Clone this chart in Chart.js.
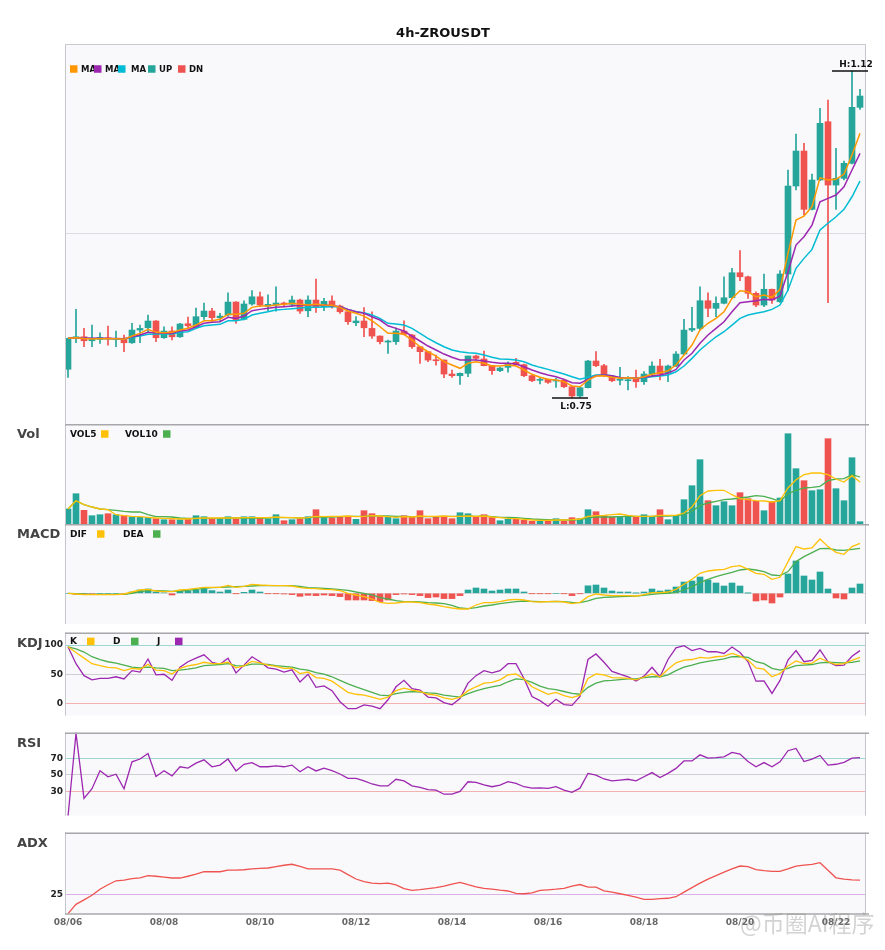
<!DOCTYPE html>
<html>
<head>
<meta charset="utf-8">
<script src="https://cdn.jsdelivr.net/npm/chart.js@4.4.0/dist/chart.umd.min.js"></script>
<style>
html,body{margin:0;padding:0;background:#fff;}
#wrap{position:relative;width:885px;height:950px;overflow:hidden;}
canvas{position:absolute;left:0;}
#wm{position:absolute;left:740px;top:911px;font-size:23px;line-height:1;font-family:"Noto Sans CJK SC",sans-serif;color:rgba(140,140,140,0.38);white-space:nowrap;pointer-events:none;}
</style>
</head>
<body>
<div id="wrap">
<canvas id="cMain" width="885" height="424" style="top:0px"></canvas>
<canvas id="cVol" width="885" height="100" style="top:424px"></canvas>
<canvas id="cMacd" width="885" height="100" style="top:524px"></canvas>
<canvas id="cKdj" width="885" height="100" style="top:624px"></canvas>
<canvas id="cRsi" width="885" height="100" style="top:724px"></canvas>
<canvas id="cAdx" width="885" height="126" style="top:824px"></canvas>
<div id="wm">@币圈AI程序</div>
</div>
<script>
// ---------------- DATA ----------------
const chartTitle = '4h-ZROUSDT';
const dateLabels = ['08/06','08/08','08/10','08/12','08/14','08/16','08/18','08/20','08/22'];
const dateTickIndex = [0,12,24,36,48,60,72,84,96];

const opens = [0.7826,0.8177,0.8195,0.8150,0.8166,0.8184,0.8166,0.8177,0.8127,0.8271,
 0.8297,0.8374,0.8184,0.8260,0.8195,0.8343,0.8309,0.8423,0.8487,0.8411,
 0.8442,0.8589,0.8393,0.8567,0.8649,0.8544,0.8555,0.8578,0.8563,0.8612,
 0.8490,0.8612,0.8536,0.8601,0.8544,0.8479,0.8354,0.8374,0.8290,0.8203,
 0.8135,0.8139,0.8260,0.8215,0.8082,0.8026,0.7931,0.7931,0.7772,0.7753,
 0.7780,0.7977,0.7943,0.7867,0.7810,0.7848,0.7905,0.7878,0.7753,0.7701,
 0.7712,0.7693,0.7704,0.7628,0.7523,0.7617,0.7920,0.7867,0.7742,0.7701,
 0.7696,0.7723,0.7685,0.7772,0.7863,0.7787,0.7863,0.7999,0.8271,0.8290,
 0.8604,0.8518,0.8575,0.8638,0.8922,0.8876,0.8688,0.8555,0.8734,0.8593,
 0.8907,0.9906,1.0303,0.9641,0.9974,1.0636,0.9917,0.9993,1.0164,1.0799];
const highs = [0.8181,0.8507,0.8290,0.8328,0.8241,0.8317,0.8260,0.8215,0.8348,0.8328,
 0.8442,0.8380,0.8309,0.8309,0.8348,0.8419,0.8521,0.8578,0.8518,0.8461,
 0.8695,0.8595,0.8604,0.8718,0.8703,0.8672,0.8763,0.8589,0.8657,0.8623,
 0.8661,0.8850,0.8631,0.8661,0.8555,0.8482,0.8423,0.8525,0.8479,0.8206,
 0.8158,0.8297,0.8377,0.8223,0.8085,0.8029,0.7988,0.7934,0.7818,0.7787,
 0.7977,0.7988,0.8033,0.7870,0.7852,0.7912,0.7950,0.7886,0.7761,0.7730,
 0.7716,0.7723,0.7716,0.7636,0.7628,0.7928,0.8026,0.7882,0.7750,0.7848,
 0.7742,0.7818,0.7799,0.7912,0.7939,0.7874,0.8026,0.8393,0.8529,0.8763,
 0.8695,0.8649,0.8876,0.8972,0.9172,0.8884,0.8706,0.8907,0.8737,0.8945,
 1.0088,1.0496,1.0391,1.0042,1.0788,1.0882,1.0334,1.0190,1.1211,1.1003];
const lows = [0.7735,0.8127,0.8082,0.8082,0.8120,0.8101,0.8082,0.8026,0.8120,0.8127,
 0.8252,0.8139,0.8177,0.8158,0.8188,0.8290,0.8302,0.8393,0.8354,0.8366,
 0.8430,0.8348,0.8385,0.8555,0.8536,0.8490,0.8487,0.8544,0.8536,0.8461,
 0.8423,0.8472,0.8490,0.8521,0.8461,0.8336,0.8320,0.8195,0.8177,0.8113,
 0.8007,0.8109,0.8215,0.8064,0.7893,0.7912,0.7874,0.7730,0.7735,0.7655,
 0.7742,0.7931,0.7863,0.7769,0.7799,0.7792,0.7874,0.7742,0.7685,0.7659,
 0.7667,0.7621,0.7617,0.7500,0.7506,0.7614,0.7855,0.7742,0.7685,0.7648,
 0.7591,0.7621,0.7655,0.7742,0.7704,0.7685,0.7855,0.7988,0.8252,0.8271,
 0.8423,0.8423,0.8567,0.8631,0.8831,0.8631,0.8536,0.8536,0.8575,0.8586,
 0.8718,0.9861,0.9577,0.9634,0.9966,0.8581,0.9641,0.9974,1.0156,1.0776];
const closes = [0.8177,0.8195,0.8150,0.8169,0.8188,0.8173,0.8173,0.8127,0.8271,0.8290,
 0.8374,0.8184,0.8260,0.8195,0.8340,0.8320,0.8423,0.8487,0.8411,0.8430,
 0.8589,0.8385,0.8567,0.8649,0.8555,0.8563,0.8578,0.8563,0.8612,0.8487,
 0.8612,0.8536,0.8597,0.8544,0.8479,0.8366,0.8374,0.8297,0.8203,0.8139,
 0.8147,0.8260,0.8223,0.8082,0.8026,0.7931,0.7923,0.7772,0.7753,0.7780,
 0.7977,0.7950,0.7867,0.7810,0.7840,0.7894,0.7878,0.7753,0.7696,0.7712,
 0.7678,0.7704,0.7628,0.7523,0.7617,0.7920,0.7867,0.7761,0.7696,0.7712,
 0.7704,0.7685,0.7772,0.7863,0.7772,0.7863,0.7999,0.8271,0.8290,0.8604,
 0.8518,0.8575,0.8638,0.8922,0.8876,0.8688,0.8555,0.8734,0.8612,0.8907,
 0.9906,1.0303,0.9641,0.9974,1.0618,0.9917,0.9993,1.0164,1.0799,1.0927];

const ma5 = [0.8177,0.8184,0.8175,0.8169,0.8173,0.8173,0.8173,0.8166,0.8203,0.8234,
 0.8279,0.8245,0.8241,0.8245,0.8272,0.8291,0.8328,0.8377,0.8377,0.8393,
 0.8450,0.8450,0.8461,0.8529,0.8544,0.8544,0.8555,0.8563,0.8575,0.8563,
 0.8555,0.8563,0.8555,0.8552,0.8529,0.8487,0.8461,0.8430,0.8377,0.8309,
 0.8234,0.8234,0.8223,0.8158,0.8082,0.8025,0.7976,0.7912,0.7874,0.7837,
 0.7894,0.7912,0.7894,0.7863,0.7863,0.7874,0.7863,0.7818,0.7769,0.7735,
 0.7712,0.7704,0.7685,0.7636,0.7628,0.7704,0.7749,0.7753,0.7735,0.7723,
 0.7730,0.7723,0.7742,0.7769,0.7787,0.7810,0.7874,0.7988,0.8101,0.8272,
 0.8348,0.8404,0.8479,0.8631,0.8718,0.8706,0.8649,0.8669,0.8643,0.8733,
 0.9142,0.9520,0.9565,0.9671,0.9999,0.9974,0.9982,1.0042,1.0258,1.0504];
const ma10 = [0.8179,0.8184,0.8181,0.8177,0.8177,0.8175,0.8175,0.8173,0.8195,0.8215,
 0.8245,0.8241,0.8234,0.8234,0.8260,0.8272,0.8309,0.8348,0.8359,0.8366,
 0.8416,0.8404,0.8430,0.8491,0.8506,0.8518,0.8529,0.8536,0.8544,0.8552,
 0.8555,0.8555,0.8555,0.8547,0.8536,0.8506,0.8479,0.8461,0.8422,0.8385,
 0.8320,0.8290,0.8260,0.8203,0.8147,0.8090,0.8045,0.7999,0.7962,0.7931,
 0.7931,0.7931,0.7920,0.7905,0.7894,0.7894,0.7886,0.7855,0.7818,0.7787,
 0.7761,0.7742,0.7712,0.7673,0.7667,0.7712,0.7753,0.7761,0.7753,0.7732,
 0.7730,0.7723,0.7735,0.7749,0.7761,0.7780,0.7825,0.7931,0.8007,0.8121,
 0.8215,0.8291,0.8366,0.8479,0.8581,0.8593,0.8604,0.8620,0.8612,0.8657,
 0.8933,0.9236,0.9330,0.9463,0.9728,0.9766,0.9804,0.9898,1.0088,1.0277];
const ma20 = [0.8180,0.8181,0.8177,0.8175,0.8175,0.8173,0.8173,0.8169,0.8189,0.8203,
 0.8223,0.8226,0.8226,0.8226,0.8245,0.8252,0.8291,0.8320,0.8328,0.8336,
 0.8377,0.8377,0.8393,0.8442,0.8461,0.8479,0.8499,0.8506,0.8513,0.8521,
 0.8529,0.8529,0.8533,0.8536,0.8536,0.8506,0.8479,0.8468,0.8442,0.8404,
 0.8348,0.8340,0.8328,0.8291,0.8234,0.8177,0.8127,0.8082,0.8045,0.8025,
 0.8014,0.8007,0.7988,0.7962,0.7942,0.7939,0.7931,0.7912,0.7874,0.7848,
 0.7825,0.7798,0.7772,0.7742,0.7712,0.7735,0.7761,0.7761,0.7753,0.7727,
 0.7727,0.7727,0.7730,0.7742,0.7749,0.7761,0.7798,0.7863,0.7950,0.8045,
 0.8121,0.8195,0.8252,0.8328,0.8404,0.8442,0.8461,0.8479,0.8506,0.8555,
 0.8726,0.8972,0.9085,0.9187,0.9407,0.9483,0.9557,0.9641,0.9784,0.9963];

const volumes = [1.50,3.03,1.37,0.83,0.93,1.03,0.93,0.83,0.73,0.67,
 0.67,0.53,0.43,0.43,0.43,0.50,0.83,0.73,0.57,0.50,
 0.73,0.50,0.73,0.73,0.57,0.50,0.93,0.33,0.43,0.50,
 0.73,1.43,0.73,0.60,0.67,0.73,0.47,1.33,1.03,0.67,
 0.67,0.53,0.83,0.67,1.33,0.53,0.77,0.73,0.53,1.13,
 1.03,0.67,0.93,0.67,0.33,0.47,0.53,0.37,0.27,0.27,
 0.27,0.53,0.27,0.63,0.53,1.43,1.23,0.83,0.70,0.77,
 0.83,0.67,0.93,0.77,1.43,0.43,0.87,2.43,3.83,6.43,
 2.33,1.83,2.23,1.83,3.13,2.53,2.27,1.33,2.27,2.60,
 9.03,5.53,4.33,3.33,3.43,8.53,3.53,2.33,6.63,0.23];
const vol5 = [1.50,2.33,1.93,1.70,1.50,1.43,0.93,0.83,0.77,0.73,
 0.67,0.60,0.57,0.53,0.50,0.50,0.57,0.60,0.60,0.60,
 0.60,0.60,0.63,0.63,0.63,0.63,0.70,0.67,0.63,0.60,
 0.63,0.77,0.73,0.77,0.77,0.80,0.73,0.77,0.83,0.80,
 0.73,0.67,0.73,0.70,0.80,0.77,0.77,0.80,0.73,0.77,
 0.80,0.77,0.80,0.70,0.63,0.57,0.53,0.47,0.40,0.37,
 0.37,0.40,0.40,0.43,0.50,0.77,0.83,0.87,0.93,1.00,
 0.87,0.77,0.77,0.77,0.87,0.87,0.87,1.10,1.70,2.83,
 3.30,3.37,3.37,2.93,2.53,2.43,2.33,2.30,2.20,2.33,
 3.60,4.43,4.93,5.10,5.10,4.93,4.50,4.20,4.83,4.20];
const vol10 = [1.50,2.33,1.93,1.70,1.50,1.43,1.37,1.27,1.20,1.20,
 0.93,0.73,0.73,0.70,0.60,0.57,0.57,0.57,0.57,0.57,
 0.60,0.60,0.60,0.60,0.60,0.60,0.63,0.63,0.63,0.60,
 0.63,0.70,0.70,0.70,0.73,0.77,0.77,0.77,0.80,0.80,
 0.80,0.77,0.77,0.73,0.73,0.73,0.73,0.77,0.77,0.77,
 0.80,0.77,0.80,0.73,0.67,0.67,0.63,0.57,0.50,0.47,
 0.43,0.40,0.40,0.40,0.45,0.62,0.70,0.70,0.70,0.73,
 0.77,0.77,0.77,0.77,0.80,0.80,0.83,0.93,1.27,1.83,
 2.10,2.27,2.43,2.50,2.60,2.70,2.83,2.77,2.53,2.27,
 3.03,3.37,3.60,3.67,3.77,4.33,4.50,4.53,4.93,4.70];

const macdHist = [0,-0.0010,-0.0010,-0.0005,0,0,0,-0.0010,0.0013,0.0033,
 0.0043,0.0013,0.0005,-0.0017,0.0020,0.0020,0.0033,0.0043,0.0027,0.0013,
 0.0033,-0.0003,0.0010,0.0033,0.0013,-0.0003,-0.0003,-0.0007,-0.0013,-0.0030,
 -0.0020,-0.0023,-0.0017,-0.0023,-0.0033,-0.0067,-0.0067,-0.0067,-0.0073,-0.0083,
 -0.0067,-0.0013,-0.0007,-0.0013,-0.0023,-0.0043,-0.0037,-0.0053,-0.0053,-0.0023,
 0.0033,0.0053,0.0043,0.0023,0.0033,0.0043,0.0043,0.0013,-0.0003,-0.0003,
 -0.0003,0.0000,-0.0003,-0.0023,-0.0003,0.0075,0.0083,0.0053,0.0023,0.0013,
 0.0013,0.0002,0.0013,0.0043,0.0023,0.0033,0.0063,0.0113,0.0123,0.0163,
 0.0133,0.0103,0.0073,0.0103,0.0073,0.0002,-0.0077,-0.0067,-0.0097,-0.0037,
 0.0193,0.0323,0.0173,0.0133,0.0213,0.0043,-0.0047,-0.0057,0.0053,0.0093];
const dif = [0,-0.0007,-0.0013,-0.0013,-0.0013,-0.0013,-0.0013,-0.0007,0.0013,0.0033,
 0.0040,0.0023,0.0017,0.0017,0.0033,0.0040,0.0050,0.0060,0.0060,0.0060,
 0.0080,0.0060,0.0070,0.0090,0.0083,0.0080,0.0077,0.0077,0.0073,0.0057,
 0.0050,0.0047,0.0040,0.0037,0.0027,0.0000,-0.0017,-0.0033,-0.0057,-0.0090,
 -0.0100,-0.0097,-0.0087,-0.0087,-0.0093,-0.0107,-0.0117,-0.0133,-0.0147,-0.0157,
 -0.0157,-0.0117,-0.0093,-0.0093,-0.0083,-0.0067,-0.0060,-0.0067,-0.0083,-0.0087,
 -0.0083,-0.0080,-0.0087,-0.0103,-0.0090,-0.0033,-0.0007,-0.0017,-0.0023,-0.0023,
 -0.0023,-0.0027,-0.0013,0.0007,0.0007,0.0013,0.0040,0.0090,0.0140,0.0200,
 0.0223,0.0233,0.0240,0.0267,0.0277,0.0240,0.0200,0.0190,0.0140,0.0160,
 0.0317,0.0467,0.0443,0.0453,0.0543,0.0467,0.0410,0.0390,0.0467,0.0500];
const dea = [0,-0.0003,-0.0007,-0.0010,-0.0010,-0.0010,-0.0010,-0.0010,0.0000,0.0017,
 0.0027,0.0027,0.0023,0.0020,0.0023,0.0030,0.0040,0.0050,0.0057,0.0060,
 0.0063,0.0067,0.0070,0.0073,0.0077,0.0077,0.0077,0.0077,0.0077,0.0068,
 0.0057,0.0053,0.0050,0.0043,0.0037,0.0030,0.0013,0.0000,-0.0017,-0.0043,
 -0.0057,-0.0073,-0.0083,-0.0083,-0.0087,-0.0093,-0.0097,-0.0103,-0.0120,-0.0147,
 -0.0153,-0.0143,-0.0127,-0.0117,-0.0103,-0.0093,-0.0083,-0.0077,-0.0080,-0.0083,
 -0.0083,-0.0080,-0.0083,-0.0090,-0.0093,-0.0075,-0.0050,-0.0040,-0.0037,-0.0033,
 -0.0030,-0.0027,-0.0020,-0.0010,-0.0003,0.0000,0.0010,0.0033,0.0067,0.0107,
 0.0140,0.0167,0.0190,0.0210,0.0233,0.0243,0.0233,0.0217,0.0183,0.0177,
 0.0217,0.0317,0.0367,0.0407,0.0447,0.0450,0.0433,0.0430,0.0440,0.0450];

const kdjK = [97,87.3,77.8,68.4,65.1,62.3,61.3,56.6,60.4,59,
 67.3,57.5,56.6,50.9,60.4,64.6,67,70.8,68.4,68.4,
 70.8,61.3,64.6,72.2,69.8,66,63.7,60.4,61,51.5,
 54.2,44.8,43.4,38.7,29.2,19.8,16.5,15.1,11.8,8,
 11.8,22.6,26.9,23.6,21.2,16.5,15.1,10.4,8,11.8,
 22.6,29.2,35.4,36.8,41,49.5,50.9,42.5,29.2,22.6,
 16.5,19.8,14.2,10.8,15,43.4,50.9,49.5,44.8,44.3,
 43.4,41,45.8,50.9,46.2,59,69.8,74.5,75.5,79.2,
 77.8,80.2,81.1,85.8,81.1,74.5,61.3,59,46.2,51.9,
 64.6,73.1,68.4,69.3,77.8,71.7,67,68.4,74.1,79.2];
const kdjD = [97,93.4,88.2,80.2,75.5,71.7,69.3,66,62.7,61.3,
 62.7,61.3,60.4,56.6,57.5,59,61.3,65.1,66,67,
 68.4,65.1,64.6,67.5,67.5,67,65.1,63.7,62.5,59,
 57.5,53.3,50.5,46.2,40.1,34,29.2,24.5,19.8,15.1,
 14.2,17.5,19.8,21.2,20.3,18.9,17.9,15.1,13.2,11.8,
 17.5,22.2,25.9,29.2,31.6,37.7,42.5,41.5,36.8,30.2,
 25.9,24.5,21.2,17.9,16.5,28.3,35.4,39.2,40.1,41.5,
 42.5,42.5,44.8,46.2,46.2,49.5,56.6,62.7,66,69.8,
 72.2,74.5,76.4,80.2,80.2,79.2,71.7,68.4,60.4,57.5,
 60.4,65.1,66,67,69.8,70.8,70.3,69.8,70.8,73.1];
const kdjJ = [97,68.4,48.1,41,43.4,43.4,46.2,42.5,56.6,54.2,
 76.4,49.5,50.5,40.1,62.3,71.7,77.8,83.5,70.8,67.5,
 77.8,52.8,66,80.2,71.7,61.3,59,54.2,58,37.2,
 50.5,28.3,30.7,22.6,3.8,-8,-8,-1.4,-3.8,-8,
 7.1,29.2,40.1,25.9,23.6,11.8,10.4,2.4,-1.4,9.4,
 35.4,48.1,56.6,52.8,56.6,68.4,68.4,43.4,12.7,5.7,
 -3.8,8,-0.9,-2.4,13,75.5,84.9,70.8,55.2,50.5,
 46.2,39.2,47.2,62.3,46.2,75.5,95.3,99.1,90.6,94.3,
 88.7,88.7,85.8,96.7,87.3,71.7,38.7,39.2,17.9,40.1,
 74.5,90.6,71.7,74.1,92,71.7,65.1,66,81.1,90.6];

const rsi = [0,100,21.7,33.3,55,47.7,50.7,33.3,65.7,69,
 75.7,48,55,48.7,59.7,58,64,68,59.7,61.7,
 69,54.7,62.7,64.7,59.7,59.7,60.7,59.7,61.7,53.7,
 59.7,54.7,58,55,51,45.7,45.7,42.7,39,36.7,
 36.7,44.7,42.7,36.7,35,32.3,31.7,26.7,26.7,30,
 41.7,41,38,35.7,37.7,41.7,39.7,35.7,34,34.3,
 33.7,35.7,31.7,29,34,51.7,49.7,45,42.7,43.7,
 44.7,42.7,47.7,52.7,46.7,51.7,57.7,66.7,66.7,74,
 70,70.7,71.7,77,75,66,59.7,64.7,59.7,65.7,
 79,81.7,66,69,73.3,61.7,62.7,65,70,70.7];

const adx = [15.2,19.9,22.2,24.5,27.6,29.9,31.9,32.2,33,33.4,
 34.5,34.2,33.8,33.3,33.3,34.2,35.3,36.5,36.5,36.5,
 37.3,37.3,37.5,37.9,38.2,38.4,39.1,39.8,40.3,39.2,
 37.9,37.9,37.9,37.9,37.3,35,32.8,31.5,30.7,30.4,
 30.7,29.8,27.9,27,27.4,27.9,28.4,29.2,30.2,31.1,
 29.9,28.8,28,27.6,27.1,26.7,25.5,25.3,25.7,27,
 27.3,27.6,28,29.2,30,28.7,28.7,26.8,26.1,25.3,
 24.5,23.6,22.4,22.4,22.8,23,23.8,26.1,28.4,30.7,
 32.7,34.5,36.3,37.9,39.4,39.1,37.6,37.1,36.7,36.7,
 37.9,39.4,39.9,40.2,41.1,37.3,33.4,32.7,32.4,32.2];

const kdjTicks = [0, 50, 100];
const rsiTicks = [30, 50, 70];
const adxTicks = [25];

// ---------------- STYLE ----------------
const FONT = '"DejaVu Sans", Verdana, sans-serif';
const COL = {up:'#26a69a', dn:'#ef5350', ma5:'#ff9800', ma10:'#9c27b0', ma20:'#00bcd4',
  yel:'#ffc107', grn:'#4caf50', pur:'#9c27b0', adx:'#ef5350'};
const PLOT_BG = '#f9f9fb';
const W = 885, LEFT = 66, RIGHT = 866;

const pts = a => a.map((v, i) => ({x: i, y: v}));
const dirColors = closes.map((c, i) => c >= opens[i] ? COL.up : COL.dn);
const histColors = macdHist.map(v => v >= 0 ? COL.up : COL.dn);

function lineDs(data, color, w) {
  return {type: 'line', data: pts(data), borderColor: color, borderWidth: w || 1.3,
    pointRadius: 0, fill: false, tension: 0, order: 0};
}

function xAxis(show) {
  return {
    type: 'linear', min: -0.25, max: 99.75, display: show, offset: false,
    grid: {display: false, drawTicks: false, offset: false},
    border: {display: false},
    afterBuildTicks: s => { s.ticks = dateTickIndex.map(v => ({value: v})); },
    ticks: {autoSkip: false, maxRotation: 0, padding: 3, color: '#666',
      font: {family: FONT, size: 9, weight: 'bold'},
      callback: (v, i) => dateLabels[i]},
    afterFit: s => { if (show) s.height = 36; }
  };
}

function yAxis(min, max, ticksArr, showLabels, gridColor) {
  return {
    type: 'linear', position: 'left', min: min, max: max,
    afterBuildTicks: s => { s.ticks = ticksArr.map(v => ({value: v})); },
    afterFit: s => { s.width = LEFT; },
    grid: {display: !!gridColor, drawTicks: false, color: gridColor || 'transparent', lineWidth: 1},
    border: {display: false},
    ticks: {display: showLabels, padding: 3, color: '#222', font: {family: FONT, size: 9, weight: 'bold'}}
  };
}

function opts(padTop, padBottom, x, y) {
  return {
    responsive: false, animation: false, events: [],
    layout: {padding: {left: 0, right: W - RIGHT, top: padTop, bottom: padBottom}},
    plugins: {legend: {display: false}, tooltip: {enabled: false}, title: {display: false}},
    scales: {x: x, y: y}
  };
}

function deco(cfg) {
  return {
    id: 'deco',
    beforeDraw(chart) {
      const {ctx, chartArea: a} = chart;
      ctx.save();
      ctx.fillStyle = PLOT_BG;
      ctx.fillRect(a.left, a.top, a.right - a.left, a.bottom - a.top);
      ctx.restore();
    },
    afterDraw(chart) {
      const {ctx, chartArea: a} = chart;
      ctx.save();
      ctx.strokeStyle = '#c6c6ce'; ctx.lineWidth = 1;
      ctx.beginPath();
      ctx.moveTo(a.left - 0.5, a.top); ctx.lineTo(a.left - 0.5, a.bottom);
      ctx.moveTo(a.right - 0.5, a.top); ctx.lineTo(a.right - 0.5, a.bottom);
      ctx.stroke();
      if (cfg.main) {
        ctx.strokeStyle = '#cacad2'; ctx.lineWidth = 1;
        ctx.beginPath(); ctx.moveTo(a.left - 1, a.top + 0.5); ctx.lineTo(a.right, a.top + 0.5); ctx.stroke();
      } else {
        ctx.strokeStyle = '#a8a8ac'; ctx.lineWidth = 1.5;
        ctx.beginPath(); ctx.moveTo(a.left - 1, a.top + 0.75); ctx.lineTo(a.right + 3, a.top + 0.75); ctx.stroke();
      }
      if (cfg.bottom) {
        ctx.strokeStyle = '#a8a8ac'; ctx.lineWidth = 1.5;
        ctx.beginPath(); ctx.moveTo(a.left - 1, a.bottom); ctx.lineTo(a.right + 3, a.bottom); ctx.stroke();
      }
      if (cfg.label) {
        ctx.font = 'bold 13px ' + FONT; ctx.fillStyle = '#444';
        ctx.textAlign = 'left'; ctx.textBaseline = 'middle';
        ctx.fillText(cfg.label, 17, a.top + 11);
      }
      if (cfg.legend) {
        const y = a.top + cfg.legendDy;
        ctx.textBaseline = 'middle'; ctx.textAlign = 'left';
        ctx.font = 'bold ' + (cfg.legendSize || 9) + 'px ' + FONT;
        cfg.legend.forEach(it => {
          if (it.sq) { ctx.fillStyle = it.sq; ctx.fillRect(it.x, y - 3.75, 7.5, 7.5); }
          else { ctx.fillStyle = '#111'; ctx.fillText(it.t, it.x, y + 0.5); }
        });
      }
      if (cfg.extra) cfg.extra(chart);
      ctx.restore();
    }
  };
}

// ---------------- MAIN ----------------
new Chart(document.getElementById('cMain'), {
  type: 'bar',
  data: {datasets: [
    lineDs(ma5, COL.ma5, 1.5),
    lineDs(ma10, COL.ma10, 1.5),
    lineDs(ma20, COL.ma20, 1.5),
    {type: 'bar', data: opens.map((o, i) => ({x: i, y: [o, closes[i]]})), backgroundColor: dirColors,
      barThickness: 6, minBarLength: 1, grouped: false, borderWidth: 0, order: 1},
    {type: 'bar', data: lows.map((l, i) => ({x: i, y: [l, highs[i]]})), backgroundColor: dirColors,
      barThickness: 1, grouped: false, borderWidth: 0, order: 2}
  ]},
  options: opts(44, 0, xAxis(false), yAxis(0.7205, 1.1518, [0.93615], false, '#dcdce2')),
  plugins: [deco({main: true, legendDy: 25, legendSize: 8.5,
    legend: [{x: 70, sq: COL.ma5}, {x: 81, t: 'MA'}, {x: 94, sq: COL.ma10}, {x: 105, t: 'MA'},
      {x: 118, sq: COL.ma20}, {x: 131, t: 'MA'}, {x: 148, sq: COL.up}, {x: 159, t: 'UP'},
      {x: 178, sq: COL.dn}, {x: 189, t: 'DN'}],
    extra: chart => {
      const ctx = chart.ctx, xs = chart.scales.x, ys = chart.scales.y;
      ctx.fillStyle = '#111'; ctx.font = 'bold 13px ' + FONT;
      ctx.textAlign = 'center'; ctx.textBaseline = 'middle';
      ctx.fillText(chartTitle, 443, 34);
      const hi = Math.max(...highs), hiI = highs.indexOf(hi);
      const lo = Math.min(...lows), loI = lows.indexOf(lo);
      const hx = xs.getPixelForValue(hiI), hy = ys.getPixelForValue(hi);
      const lx = xs.getPixelForValue(loI), ly = ys.getPixelForValue(lo);
      ctx.strokeStyle = '#111'; ctx.lineWidth = 1.5;
      ctx.beginPath();
      ctx.moveTo(hx - 20, hy); ctx.lineTo(hx + 16, hy);
      ctx.moveTo(lx - 20, ly); ctx.lineTo(lx + 16, ly);
      ctx.stroke();
      ctx.font = 'bold 9px ' + FONT;
      ctx.fillText('H:' + hi.toFixed(2), hx + 4, hy - 6);
      ctx.fillText('L:' + lo.toFixed(2), lx + 4, ly + 9);
    }})]
});

// ---------------- VOL ----------------
new Chart(document.getElementById('cVol'), {
  type: 'bar',
  data: {datasets: [
    lineDs(vol5, COL.yel, 1.3),
    lineDs(vol10, COL.grn, 1.3),
    {type: 'bar', data: pts(volumes), backgroundColor: dirColors, barThickness: 6, grouped: false, borderWidth: 0, order: 2}
  ]},
  options: opts(0, 0, xAxis(false), yAxis(0, 10, [], false, null)),
  plugins: [deco({label: 'Vol', legendDy: 10,
    legend: [{x: 70, t: 'VOL5'}, {x: 101, sq: COL.yel}, {x: 125, t: 'VOL10'}, {x: 163, sq: COL.grn}]})]
});

// ---------------- MACD ----------------
new Chart(document.getElementById('cMacd'), {
  type: 'bar',
  data: {datasets: [
    lineDs(dif, COL.yel, 1.3),
    lineDs(dea, COL.grn, 1.3),
    {type: 'bar', data: pts(macdHist), backgroundColor: histColors, barThickness: 6, grouped: false, borderWidth: 0, order: 2}
  ]},
  options: opts(0, 0, xAxis(false), yAxis(-0.0307, 0.0693, [0], false, '#dddddd')),
  plugins: [deco({label: 'MACD', legendDy: 10,
    legend: [{x: 70, t: 'DIF'}, {x: 97, sq: COL.yel}, {x: 123, t: 'DEA'}, {x: 153, sq: COL.grn}]})]
});

// ---------------- KDJ ----------------
const bandColor = (hiV, loV) => ctx => {
  const v = ctx.tick ? ctx.tick.value : null;
  if (v === hiV) return '#9fd6d1';
  if (v === loV) return '#f3b1b1';
  return '#cfcfd3';
};
new Chart(document.getElementById('cKdj'), {
  type: 'line',
  data: {datasets: [
    lineDs(kdjK, COL.yel, 1.3),
    lineDs(kdjD, COL.grn, 1.3),
    lineDs(kdjJ, COL.pur, 1.3)
  ]},
  options: opts(0, 0, xAxis(false), yAxis(-19.7, 121.5, kdjTicks, true, bandColor(100, 0))),
  plugins: [deco({label: 'KDJ', legendDy: 9,
    legend: [{x: 70, t: 'K'}, {x: 87, sq: COL.yel}, {x: 113, t: 'D'}, {x: 131, sq: COL.grn},
      {x: 157, t: 'J'}, {x: 175, sq: COL.pur}]})]
});

// ---------------- RSI ----------------
new Chart(document.getElementById('cRsi'), {
  type: 'line',
  data: {datasets: [lineDs(rsi, COL.pur, 1.3)]},
  options: opts(0, 0, xAxis(false), yAxis(1, 101, rsiTicks, true, bandColor(70, 30))),
  plugins: [deco({label: 'RSI'})]
});

// ---------------- ADX ----------------
new Chart(document.getElementById('cAdx'), {
  type: 'line',
  data: {datasets: [lineDs(adx, COL.adx, 1.3)]},
  options: opts(0, 0, xAxis(true), yAxis(15, 56.5, adxTicks, true, '#dcb0e6')),
  plugins: [deco({label: 'ADX', bottom: true})]
});
</script>
</body>
</html>
